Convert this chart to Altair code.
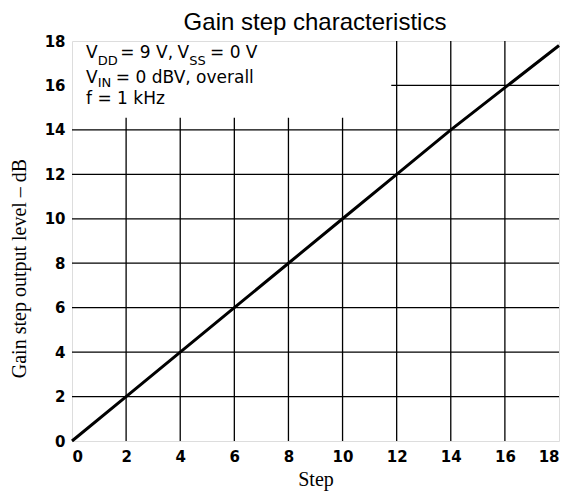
import altair as alt
import pandas as pd

# ---- data ----
step = [0, 2, 4, 6, 8, 10, 12, 14, 16, 18]
level = [0, 2, 4, 6, 8, 10, 12, 14, 15.9, 17.8]
tick_values = [0, 2, 4, 6, 8, 10, 12, 14, 16, 18]

grid_x = [2, 4, 6, 8, 10, 12, 14, 16]
grid_x_top = [14.55, 14.55, 14.55, 14.55, 14.55, 18, 18, 18]
grid_y = [2, 4, 6, 8, 10, 12, 14, 16]
grid_y_start = [0, 0, 0, 0, 0, 0, 0, 11.8]

title_text = ["Gain step characteristics"]

note_text = ["V", "DD", "= 9 V,", "V", "SS", "= 0 V",
             "V", "IN", "= 0 dBV, overall",
             "f = 1 kHz"]
note_x = [0.52, 0.95, 1.78, 3.9, 4.33, 5.1,
          0.52, 0.95, 1.62,
          0.52]
note_y = [17.22, 16.92, 17.22, 17.22, 16.92, 17.22,
          16.12, 15.93, 16.12,
          15.17]
note_size = [17, 13, 17, 17, 13, 17,
             17, 13, 17,
             17]

line_df = pd.DataFrame({"step": step, "level": level})
vgrid = pd.DataFrame({"step": grid_x, "y0": [0] * len(grid_x), "y1": grid_x_top})
hgrid = pd.DataFrame({"level": grid_y, "x0": grid_y_start, "x1": [18] * len(grid_y)})
notes = pd.DataFrame({"t": note_text, "step": note_x, "level": note_y, "s": note_size})
title_df = pd.DataFrame({"t": title_text})

xscale = alt.Scale(domain=[0, 18], nice=False)
yscale = alt.Scale(domain=[0, 18], nice=False)

xaxis = alt.Axis(values=tick_values, title="Step", grid=False, ticks=False, tickSize=0,
                 domain=False, labelFont="DejaVu Sans", labelFontSize=15, labelFontWeight="bold",
                 labelColor="black", labelPadding=8,
                 titleFont="Liberation Serif", titleFontSize=20, titleFontWeight="normal",
                 titleColor="black", titleY=44, titleBaseline="alphabetic")
yaxis = alt.Axis(values=tick_values, title="Gain step output level – dB", grid=False, ticks=False,
                 tickSize=0, domain=False, labelFont="DejaVu Sans", labelFontSize=15,
                 labelFontWeight="bold", labelColor="black", labelPadding=7,
                 titleFont="Liberation Serif", titleFontSize=20, titleFontWeight="normal",
                 titleColor="black", titleX=-53, titleY=227, titleAngle=-90,
                 titleAlign="center", titleBaseline="middle")

vrules = alt.Chart(vgrid).mark_rule(color="black", strokeWidth=1.3).encode(
    x=alt.X("step:Q", scale=xscale, axis=xaxis),
    y=alt.Y("y0:Q", scale=yscale, axis=yaxis),
    y2="y1:Q",
)
hrules = alt.Chart(hgrid).mark_rule(color="black", strokeWidth=1.3).encode(
    x=alt.X("x0:Q", scale=xscale, axis=xaxis),
    x2="x1:Q",
    y=alt.Y("level:Q", scale=yscale, axis=yaxis),
)
line = alt.Chart(line_df).mark_line(color="black", strokeWidth=3).encode(
    x=alt.X("step:Q", scale=xscale, axis=xaxis),
    y=alt.Y("level:Q", scale=yscale, axis=yaxis),
)
text = alt.Chart(notes).mark_text(align="left", baseline="alphabetic", font="DejaVu Sans",
                                  color="black").encode(
    x=alt.X("step:Q", scale=xscale, axis=xaxis),
    y=alt.Y("level:Q", scale=yscale, axis=yaxis),
    text="t:N",
    size=alt.Size("s:Q", scale=None, legend=None),
)
title = alt.Chart(title_df).mark_text(align="center", baseline="alphabetic",
                                      font="Liberation Sans", fontSize=24,
                                      color="black").encode(
    x=alt.value(243),
    y=alt.value(-11),
    text="t:N",
)

chart = alt.layer(vrules, hrules, line, text, title).properties(
    width=487,
    height=400,
    autosize=alt.AutoSizeParams(type="none"),
    padding={"left": 64, "top": 33, "right": 8, "bottom": 51},
).configure_view(stroke="black", strokeWidth=2).configure(background="white")

chart.save("out.html", embed_options={"renderer": "svg", "actions": False})
